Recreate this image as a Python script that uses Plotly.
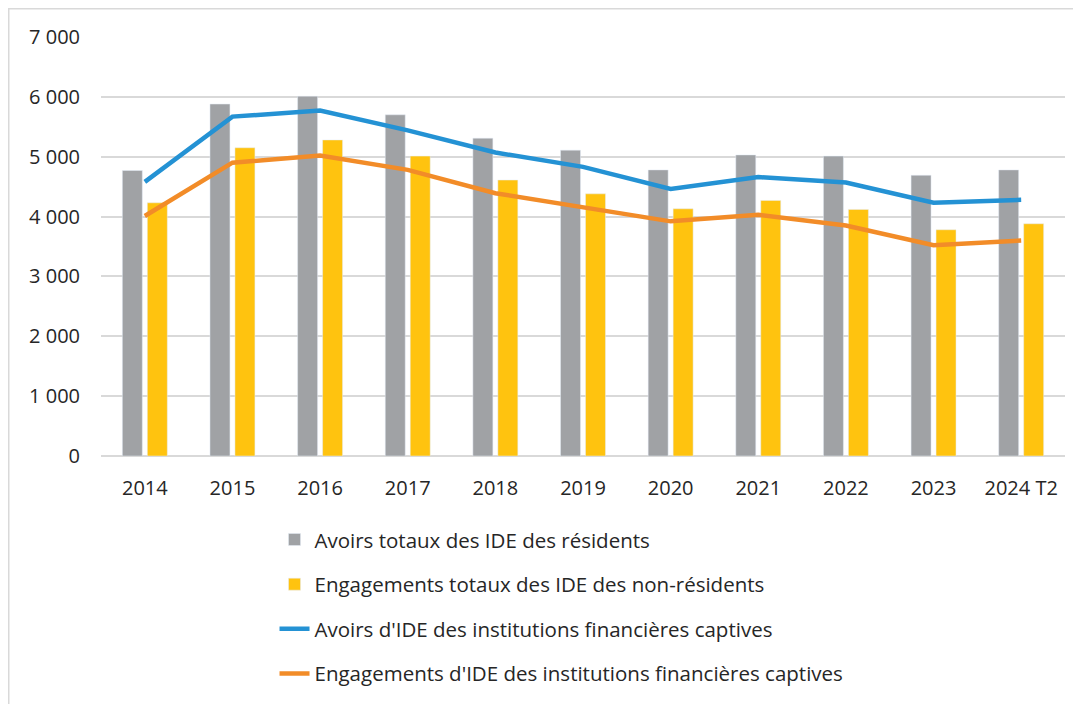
import plotly.graph_objects as go

categories = ["2014", "2015", "2016", "2017", "2018", "2019", "2020", "2021", "2022", "2023", "2024 T2"]
avoirs_totaux = [4770, 5880, 6010, 5700, 5310, 5110, 4780, 5030, 5010, 4690, 4780]
engagements_totaux = [4230, 5150, 5280, 5010, 4610, 4380, 4130, 4270, 4120, 3780, 3880]
avoirs_captives = [4580, 5670, 5770, 5440, 5070, 4830, 4460, 4660, 4570, 4230, 4280]
engagements_captives = [4010, 4900, 5020, 4780, 4390, 4160, 3920, 4030, 3850, 3520, 3600]

names = [
    "Avoirs totaux des IDE des résidents",
    "Engagements totaux des IDE des non-résidents",
    "Avoirs d'IDE des institutions financières captives",
    "Engagements d'IDE des institutions financières captives",
]

GRAY = "#A0A2A5"
YELLOW = "#FFC30F"
BLUE = "#2492D4"
ORANGE = "#F28C28"
TXT = "#262626"
FONT = "Open Sans"

ML, MT, MB, MR = 93, 29, 256, 24
PW = 1081 - ML - MR
PH = 704 - MT - MB

fig = go.Figure()
fig.add_trace(go.Bar(x=categories, y=avoirs_totaux, name=names[0], marker_color=GRAY,
                     legendgroup="g1"))
fig.add_trace(go.Bar(x=categories, y=engagements_totaux, name=names[1], marker_color=YELLOW,
                     legendgroup="g2"))
fig.add_trace(go.Scatter(x=categories, y=avoirs_captives, name=names[2], mode="lines",
                         line=dict(color=BLUE, width=4.5), legendgroup="g3"))
fig.add_trace(go.Scatter(x=categories, y=engagements_captives, name=names[3], mode="lines",
                         line=dict(color=ORANGE, width=4.5), legendgroup="g4"))

fig.update_layout(
    width=1081, height=704,
    margin=dict(l=ML, r=MR, t=MT, b=MB, autoexpand=False),
    paper_bgcolor="white", plot_bgcolor="white",
    separators=", ",
    font=dict(family=FONT, size=20, color=TXT),
    barmode="group", bargap=0.43, bargroupgap=0.2,
    showlegend=True,
    legend=dict(
        x=0.180, xanchor="left", y=-0.152, yanchor="top",
        orientation="v", traceorder="grouped", tracegroupgap=15,
        font=dict(family=FONT, size=20.5, color=TXT),
        bgcolor="rgba(0,0,0,0)",
    ),
    xaxis=dict(
        showgrid=False, showline=False, zeroline=False,
        ticks="", ticklabelstandoff=18,
        tickfont=dict(family=FONT, size=20, color=TXT),
    ),
    yaxis=dict(
        range=[0, 7000], dtick=1000, tickformat=",d",
        showgrid=True, gridcolor="#D9D9D9", gridwidth=1.5,
        zeroline=True, zerolinecolor="#D9D9D9", zerolinewidth=1.5,
        showline=False, ticks="", ticklabelstandoff=20,
        tickfont=dict(family=FONT, size=20, color=TXT),
    ),
    shapes=[dict(type="rect", xref="paper", yref="paper",
                 x0=(0.75 - ML) / PW, x1=1.1, y0=-0.8, y1=(PH + MT - 0.75) / PH,
                 line=dict(color="#D9D9D9", width=1.5), fillcolor="rgba(0,0,0,0)", layer="below")],
)

fig.write_html("out.html")
